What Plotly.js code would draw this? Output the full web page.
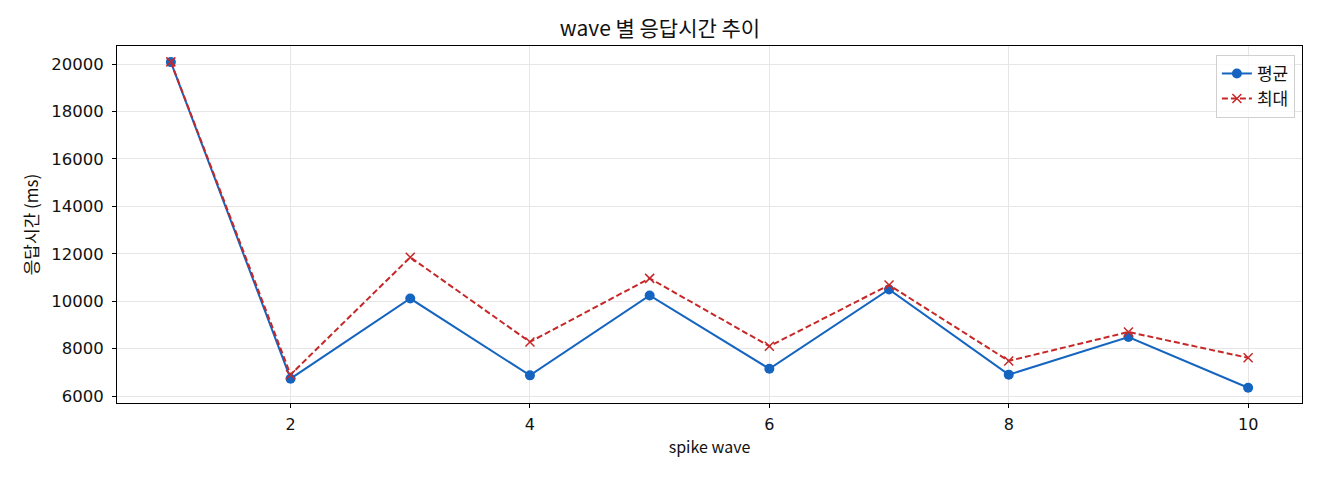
<!DOCTYPE html>
<html>
<head>
<meta charset="utf-8">
<script src="https://cdn.plot.ly/plotly-3.0.1.min.js"></script>
<style>
  html, body { margin: 0; padding: 0; background: #fff; }
  #chart { width: 1320px; height: 480px; }
</style>
</head>
<body>
<div id="chart"></div>
<script>
const waves = [1, 2, 3, 4, 5, 6, 7, 8, 9, 10];
const avgMs = [20080, 6730, 10110, 6870, 10240, 7150, 10490, 6900, 8490, 6350];
const maxMs = [20090, 6900, 11850, 8280, 10960, 8100, 10680, 7480, 8700, 7610];

const KR = "'Noto Sans CJK KR', 'Noto Sans', sans-serif";
const NUM = "'DejaVu Sans', 'Noto Sans CJK KR', sans-serif";

const traces = [
  {
    x: waves,
    y: avgMs,
    name: '평균',
    type: 'scatter',
    mode: 'lines+markers',
    line: { color: '#1565C0', width: 2 },
    marker: { color: '#1565C0', size: 10, symbol: 'circle' }
  },
  {
    x: waves,
    y: maxMs,
    name: '최대',
    type: 'scatter',
    mode: 'lines+markers',
    line: { color: '#C62828', width: 2, dash: '6px,3px' },
    marker: { color: '#C62828', size: 9, symbol: 'x-thin', line: { color: '#C62828', width: 1.5 } }
  }
];

const layout = {
  width: 1320,
  height: 480,
  margin: { l: 117, r: 18, t: 46, b: 77 },
  paper_bgcolor: '#fff',
  plot_bgcolor: '#fff',
  font: { family: KR, size: 16, color: '#000' },
  title: {
    text: 'wave 별 응답시간 추이',
    font: { family: KR, size: 21, color: '#111' },
    x: 0.5, xanchor: 'center',
    y: 0.94, yanchor: 'middle'
  },
  xaxis: {
    range: [0.55, 10.45],
    tickmode: 'linear', tick0: 0, dtick: 2,
    showgrid: true, gridcolor: '#e6e6e6', gridwidth: 1,
    zeroline: false,
    showline: true, linecolor: '#000', linewidth: 1, mirror: true,
    ticks: 'outside', ticklen: 4, tickcolor: '#000',
    ticklabelstandoff: 3,
    tickfont: { family: NUM, size: 16, color: '#111' },
    title: { text: 'spike wave', font: { family: KR, size: 16, color: '#111' }, standoff: 8 }
  },
  yaxis: {
    range: [5705, 20760],
    tickmode: 'linear', tick0: 0, dtick: 2000,
    tickformat: 'd',
    showgrid: true, gridcolor: '#e6e6e6', gridwidth: 1,
    zeroline: false,
    showline: true, linecolor: '#000', linewidth: 1, mirror: true,
    ticks: 'outside', ticklen: 4, tickcolor: '#000',
    ticklabelstandoff: 5,
    tickfont: { family: NUM, size: 16.5, color: '#111' },
    title: { text: '응답시간 (ms)', font: { family: KR, size: 17, color: '#111' }, standoff: 8 }
  },
  legend: {
    x: 0.994, xanchor: 'right',
    y: 0.975, yanchor: 'top',
    bgcolor: 'rgba(255,255,255,0.8)',
    bordercolor: '#d0d0d0', borderwidth: 1,
    font: { family: KR, size: 17, color: '#111' },
    tracegroupgap: 4
  },
  showlegend: true
};

Plotly.newPlot('chart', traces, layout, { displayModeBar: false, staticPlot: true });
</script>
</body>
</html>
